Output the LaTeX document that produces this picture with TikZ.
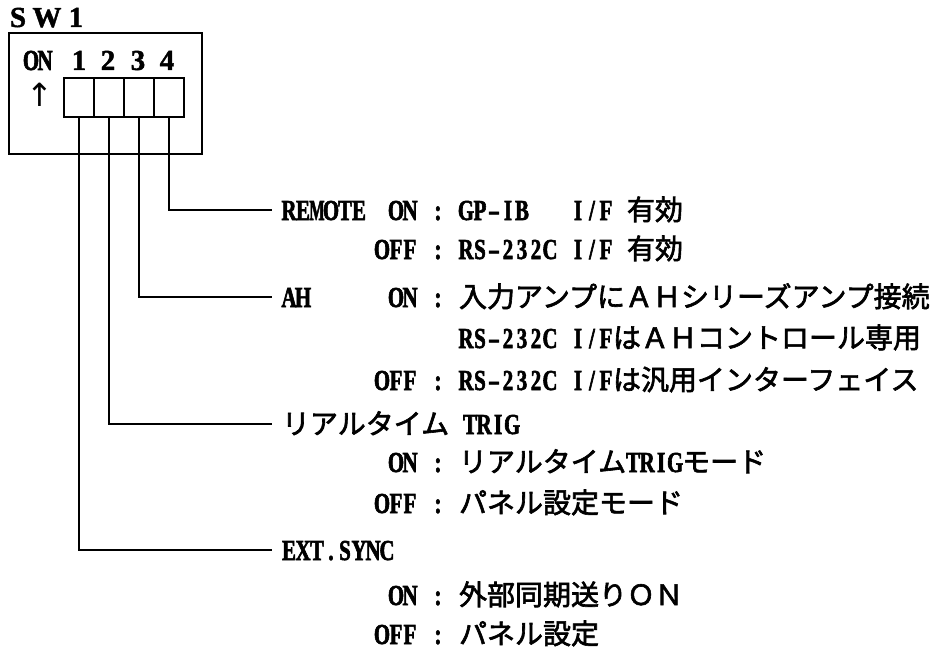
\documentclass[tikz,border=0pt]{standalone}
\usepackage{graphicx}
\usepackage{fontspec}
\newfontfamily\latfam{Liberation Serif Bold}[FakeStretch=0.72, FakeBold=2]
\newfontfamily\latwide{Liberation Serif Bold}[FakeBold=1.5]
\newfontfamily\jpfam{Noto Sans CJK JP}[FakeBold=2.2]
\newfontfamily\dvfam{DejaVu Sans}
\newcommand\LT{\latfam\fontsize{29}{34}\selectfont}
\newcommand\LW{\latwide\fontsize{29}{34}\selectfont}
\newcommand\JP{\jpfam\fontsize{28}{34}\selectfont}
\newcommand\hy{\scalebox{1.7}[1]{-}}
\newcommand\nM{\scalebox{0.78}[1]{M}}
\ExplSyntaxOn
\NewDocumentCommand\mono{m}{\tl_map_inline:nn {#1}{\makebox[14pt][c]{##1}}}
\ExplSyntaxOff
\tikzset{
  txt/.style={inner sep=0pt, outer sep=0pt, font=\LT},
  val/.style={txt, anchor=base west},
  lbl/.style={inner ysep=0pt, inner xsep=10pt, outer sep=0pt, font=\LT,
              text height=20pt, text depth=0pt, anchor=base west},
  wire/.style={line width=2.4pt},
  cell/.style={draw, line width=2.4pt, minimum width=30pt, minimum height=39pt,
               inner sep=0pt, outer sep=0pt},
}
\begin{document}
\begin{tikzpicture}[x=1pt,y=-1pt]
\fill[white] (0,0) rectangle (937,650);
\useasboundingbox (0,0) rectangle (937,650);

% switch block
\node[txt, anchor=base west, font=\LW] (sw) at (3.5,27)
  {\makebox[29pt]{S}\makebox[29pt]{W}\makebox[29pt]{1}};
\node[draw, line width=2.4pt, minimum width=193pt, minimum height=121pt,
      inner sep=0pt, outer sep=0pt, anchor=north west] (swbox) at (9,33) {};
\node[val] (on) at (24,70) {\mono{ON}};
\node[txt, anchor=base, font=\LW] (n1) at (79,70) {1};
\node[txt, anchor=base, font=\LW] (n2) at (108,70) {2};
\node[txt, anchor=base, font=\LW] (n3) at (138,70) {3};
\node[txt, anchor=base, font=\LW] (n4) at (167,70) {4};
\node[txt, font=\dvfam\fontsize{32}{34}\selectfont] (arr) at (40,95) {↑};
\node[cell] (s1) at (79,97.5) {};
\node[cell] (s2) at (109,97.5) {};
\node[cell] (s3) at (139,97.5) {};
\node[cell] (s4) at (169,97.5) {};

% labels
\node[lbl] (remote) at (272,220) {\mono{RE{\nM}OTE}};
\node[lbl] (ah) at (272,307) {\mono{AH}};
\node[lbl] (trig) at (272,434) {{\JP リアルタイム}\mono{~TRIG}};
\node[lbl] (ext) at (272,560) {\mono{EXT.SYNC}};

% connectors
\draw[wire] (s4.south) |- (remote.west);
\draw[wire] (s3.south) |- (ah.west);
\draw[wire] (s2.south) |- (trig.west);
\draw[wire] (s1.south) |- (ext.west);

% values
\node[val] (v1) at (375,220) {\mono{~ON~:~GP{\hy}IB~~~I/F~}{\JP 有効}};
\node[val] (v2) at (375,259) {\mono{OFF~:~RS{\hy}232C~I/F~}{\JP 有効}};
\node[val] (v3) at (375,307) {\mono{~ON~:~}{\JP 入力アンプにＡＨシリーズアンプ接続}};
\node[val] (v4) at (375,348) {\mono{~~~~~~RS{\hy}232C~I/F}{\JP はＡＨコントロール専用}};
\node[val] (v5) at (375,390) {\mono{OFF~:~RS{\hy}232C~I/F}{\JP は汎用インターフェイス}};
\node[val] (v7) at (375,472) {\mono{~ON~:~}{\JP リアルタイム}\mono{TRIG}{\JP モード}};
\node[val] (v8) at (375,513) {\mono{OFF~:~}{\JP パネル設定モード}};
\node[val] (v10) at (375,605) {\mono{~ON~:~}{\JP 外部同期送りＯＮ}};
\node[val] (v11) at (375,644) {\mono{OFF~:~}{\JP パネル設定}};
\end{tikzpicture}
\end{document}
